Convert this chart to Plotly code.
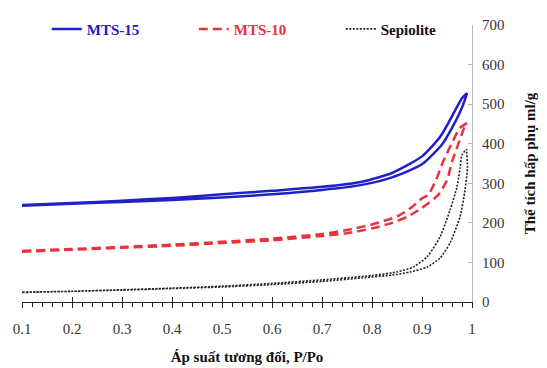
import plotly.graph_objects as go

# ---- data (relative pressure P/Po, adsorbed volume ml/g) ----
mts15_ads_x = [0.1, 0.2, 0.3, 0.4, 0.5, 0.6, 0.7, 0.78, 0.84, 0.9, 0.94, 0.96, 0.975, 0.985, 0.99]
mts15_ads_y = [243, 248, 253, 258, 264, 272, 283, 296, 315, 348, 398, 440, 477, 508, 528]
mts15_des_x = [0.99, 0.98, 0.97, 0.956, 0.936, 0.9, 0.84, 0.78, 0.7, 0.6, 0.5, 0.4, 0.3, 0.2, 0.1]
mts15_des_y = [528, 515, 493, 460, 417, 368, 326, 304, 291, 281, 272, 263, 256, 250, 245]

mts10_ads_x = [0.1, 0.2, 0.3, 0.4, 0.5, 0.6, 0.7, 0.75, 0.8, 0.84, 0.87, 0.9, 0.932, 0.95, 0.96, 0.972, 0.986, 0.99]
mts10_ads_y = [127, 132, 137, 142, 149, 156, 167, 174, 186, 200, 215, 238, 270, 308, 354, 397, 445, 452]
mts10_des_x = [0.99, 0.976, 0.958, 0.942, 0.928, 0.912, 0.9, 0.88, 0.85, 0.8, 0.75, 0.7, 0.6, 0.5, 0.4, 0.3, 0.2, 0.1]
mts10_des_y = [452, 440, 397, 354, 308, 270, 262, 240, 216, 196, 182, 172, 160, 152, 145, 139, 134, 129]

sep_ads_x = [0.1, 0.2, 0.3, 0.4, 0.5, 0.6, 0.7, 0.78, 0.84, 0.876, 0.91, 0.936, 0.956, 0.976, 0.986, 0.991, 0.989]
sep_ads_y = [24, 27, 30, 34, 38, 44, 52, 61, 68, 76, 88, 111, 149, 215, 283, 340, 386]
sep_des_x = [0.989, 0.98, 0.976, 0.97, 0.956, 0.936, 0.91, 0.882, 0.85, 0.8, 0.7, 0.6, 0.5, 0.4, 0.3, 0.2, 0.1]
sep_des_y = [386, 372, 338, 291, 232, 164, 114, 88, 76, 67, 56, 47, 40, 35, 31, 27, 25]

x_ticks = [0.1, 0.2, 0.3, 0.4, 0.5, 0.6, 0.7, 0.8, 0.9, 1.0]
x_tick_labels = ["0.1", "0.2", "0.3", "0.4", "0.5", "0.6", "0.7", "0.8", "0.9", "1"]
y_ticks = [0, 100, 200, 300, 400, 500, 600, 700]

BLUE = "#2020c8"
RED = "#e8323c"
BLACK = "#222222"
SERIF = "Liberation Serif"

fig = go.Figure()
fig.add_trace(go.Scatter(
    x=mts15_ads_x + mts15_des_x, y=mts15_ads_y + mts15_des_y, mode="lines",
    name="<b><span style='color:%s'>MTS-15</span></b>" % BLUE,
    line=dict(color=BLUE, width=2.5, shape="spline", smoothing=0.6)))
fig.add_trace(go.Scatter(
    x=mts10_ads_x + mts10_des_x, y=mts10_ads_y + mts10_des_y, mode="lines",
    name="<b><span style='color:%s'>MTS-10</span></b>" % RED,
    line=dict(color=RED, width=2.5, dash="9px,5px", shape="spline", smoothing=0.6)))
fig.add_trace(go.Scatter(
    x=sep_ads_x + sep_des_x, y=sep_ads_y + sep_des_y, mode="lines",
    name="<b>Sepiolite</b>",
    line=dict(color=BLACK, width=1.6, dash="2px,1.5px", shape="spline", smoothing=0.6)))
# overlay axis only for crossing major ticks
fig.add_trace(go.Scatter(x=[0.1, 1.0], y=[0, 0], xaxis="x2", mode="lines",
                         line=dict(width=0), showlegend=False, hoverinfo="skip"))

fig.update_layout(
    width=547, height=368,
    margin=dict(l=22, r=75, t=25, b=66),
    paper_bgcolor="white", plot_bgcolor="white",
    font=dict(family=SERIF, size=15, color="#333333"),
    showlegend=True,
    legend=dict(orientation="h", x=0.055, xanchor="left", y=0.985, yanchor="middle",
                entrywidth=102, entrywidthmode="pixels",
                font=dict(family=SERIF, size=15, color="#111111"),
                bgcolor="rgba(0,0,0,0)", itemclick=False),
    xaxis=dict(range=[0.1, 1.0], tickmode="array", tickvals=x_ticks, ticktext=x_tick_labels,
               automargin=False,
               showgrid=False, zeroline=False, showline=True, linecolor="#222222", linewidth=1.2,
               ticks="outside", ticklen=5, tickcolor="#222222", tickwidth=1.2,
               minor=dict(dtick=0.02, ticks="outside", ticklen=4, tickcolor="#222222", tickwidth=1),
               ticklabelstandoff=8,
               tickfont=dict(family=SERIF, size=15, color="#333333"),
               title=dict(text="<b>Áp suất tương đối, P/Po</b>", standoff=15,
                          font=dict(family=SERIF, size=15, color="#111111"))),
    xaxis2=dict(range=[0.1, 1.0], overlaying="x", anchor="y", tickmode="array", tickvals=x_ticks,
                showticklabels=False, showgrid=False, zeroline=False, showline=False,
                ticks="inside", ticklen=5, tickcolor="#222222", tickwidth=1.2, side="bottom"),
    yaxis=dict(range=[0, 700], tickmode="array", tickvals=y_ticks, side="right",
               automargin=False,
               showgrid=False, zeroline=False, showline=True, linecolor="#b8b8b8", linewidth=1,
               ticks="inside", ticklen=4, tickcolor="#b8b8b8",
               ticklabelstandoff=6,
               tickfont=dict(family=SERIF, size=15, color="#333333"),
               title=dict(text="<b>Thể tích hấp phụ ml/g</b>", standoff=20,
                          font=dict(family=SERIF, size=15, color="#111111"))),
)

fig.write_html("out.html")
